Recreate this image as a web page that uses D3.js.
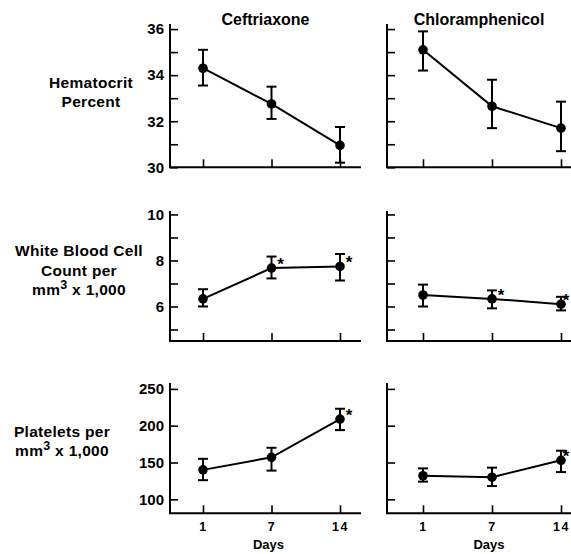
<!DOCTYPE html>
<html>
<head>
<meta charset="utf-8">
<script src="https://cdn.jsdelivr.net/npm/d3@7"></script>
<style>
  html, body { margin: 0; padding: 0; background: #fff; }
  svg { display: block; font-family: "Liberation Sans", Arial, sans-serif; font-weight: bold; }
</style>
</head>
<body>
<svg id="chart" width="571" height="554"></svg>
<script>
// ---------- data ----------
const days = ["1", "7", "14"];
const drugs = ["Ceftriaxone", "Chloramphenicol"];

const hctCeftriaxone      = [34.3, 32.75, 30.95];
const hctCeftriaxoneLo    = [33.55, 32.1, 30.2];
const hctCeftriaxoneHi    = [35.1, 33.5, 31.75];
const hctCeftriaxoneSig   = [false, false, false];

const hctChloramphenicol    = [35.1, 32.65, 31.7];
const hctChloramphenicolLo  = [34.2, 31.7, 30.7];
const hctChloramphenicolHi  = [35.9, 33.8, 32.85];
const hctChloramphenicolSig = [false, false, false];

const wbcCeftriaxone      = [6.33, 7.67, 7.74];
const wbcCeftriaxoneLo    = [6.0, 7.22, 7.13];
const wbcCeftriaxoneHi    = [6.75, 8.17, 8.28];
const wbcCeftriaxoneSig   = [false, true, true];

const wbcChloramphenicol    = [6.5, 6.33, 6.1];
const wbcChloramphenicolLo  = [6.0, 5.92, 5.83];
const wbcChloramphenicolHi  = [6.95, 6.7, 6.42];
const wbcChloramphenicolSig = [false, true, true];

const pltCeftriaxone      = [140, 157, 209];
const pltCeftriaxoneLo    = [126, 139, 194];
const pltCeftriaxoneHi    = [155, 170, 223];
const pltCeftriaxoneSig   = [false, false, true];

const pltChloramphenicol    = [132, 130, 153];
const pltChloramphenicolLo  = [124, 118, 137];
const pltChloramphenicolHi  = [142, 143, 166];
const pltChloramphenicolSig = [false, false, true];

const hctTicks = [30, 31, 32, 33, 34, 35, 36];
const hctTickLabels = [30, 32, 34, 36];
const wbcTicks = [5, 6, 7, 8, 9, 10];
const wbcTickLabels = [6, 8, 10];
const pltTicks = [100, 150, 200, 250];
const pltTickLabels = [100, 150, 200, 250];

// ---------- layout ----------
const svg = d3.select("#chart");
const ink = "#000";

const cols = [
  { frame: [170, 361], points: [203, 340], labels: true },
  { frame: [387, 575], points: [423, 561], labels: false }
];

const rows = [
  { domain: [30, 36.22], range: [167.3, 24], ticks: hctTicks, tickLabels: hctTickLabels,
    series: [[hctCeftriaxone, hctCeftriaxoneLo, hctCeftriaxoneHi, hctCeftriaxoneSig],
             [hctChloramphenicol, hctChloramphenicolLo, hctChloramphenicolHi, hctChloramphenicolSig]],
    label: [["Hematocrit"], ["Percent"]], labelX: 91, labelY: [88, 107] },
  { domain: [4.5, 10.15], range: [341, 211], ticks: wbcTicks, tickLabels: wbcTickLabels,
    series: [[wbcCeftriaxone, wbcCeftriaxoneLo, wbcCeftriaxoneHi, wbcCeftriaxoneSig],
             [wbcChloramphenicol, wbcChloramphenicolLo, wbcChloramphenicolHi, wbcChloramphenicolSig]],
    label: [["White Blood Cell"], ["Count per"], ["mm", "3", " x 1,000"]], labelX: 79, labelY: [256, 276, 295] },
  { domain: [81, 258], range: [513.3, 383], ticks: pltTicks, tickLabels: pltTickLabels,
    series: [[pltCeftriaxone, pltCeftriaxoneLo, pltCeftriaxoneHi, pltCeftriaxoneSig],
             [pltChloramphenicol, pltChloramphenicolLo, pltChloramphenicolHi, pltChloramphenicolSig]],
    label: [["Platelets per"], ["mm", "3", " x 1,000"]], labelX: 62, labelY: [437, 456] }
];

// column titles
drugs.forEach((name, ci) => {
  svg.append("text")
    .attr("x", (cols[ci].frame[0] + Math.min(cols[ci].frame[1], 571)) / 2)
    .attr("y", 25)
    .attr("text-anchor", "middle")
    .attr("font-size", 16)
    .attr("fill", ink)
    .text(name);
});

rows.forEach((row, ri) => {
  const y = d3.scaleLinear().domain(row.domain).range(row.range);
  const baseY = row.range[0];

  // row label
  row.label.forEach((parts, li) => {
    const t = svg.append("text")
      .attr("x", row.labelX)
      .attr("y", row.labelY[li])
      .attr("text-anchor", "middle")
      .attr("font-size", 15.5)
      .attr("letter-spacing", 0.3)
      .attr("fill", ink);
    if (parts.length === 1) {
      t.text(parts[0]);
    } else {
      t.append("tspan").text(parts[0]);
      t.append("tspan").attr("dy", -6).attr("font-size", 12.5).text(parts[1]);
      t.append("tspan").attr("dy", 6).text(parts[2]);
    }
  });

  cols.forEach((col, ci) => {
    const x = d3.scalePoint().domain(days).range(col.points);
    const g = svg.append("g");

    // y axis (ticks inside)
    const yAxis = d3.axisLeft(y)
      .tickValues(row.ticks)
      .tickSizeInner(-8)
      .tickSizeOuter(0)
      .tickPadding(5)
      .tickFormat(d => (col.labels && row.tickLabels.includes(d)) ? d : "");
    const ya = g.append("g")
      .attr("transform", `translate(${col.frame[0]},0)`)
      .call(yAxis);
    ya.select(".domain").remove();
    ya.selectAll(".tick line").attr("stroke", ink).attr("stroke-width", 1.6);
    ya.selectAll(".tick text")
      .attr("fill", ink)
      .attr("font-size", 15)
      .attr("font-family", "Liberation Sans, Arial, sans-serif")
      .attr("font-weight", "bold")
      .attr("x", -6);

    // vertical axis line
    g.append("line")
      .attr("x1", col.frame[0]).attr("x2", col.frame[0])
      .attr("y1", y.range()[1]).attr("y2", baseY)
      .attr("stroke", ink).attr("stroke-width", 2);

    // x axis (ticks inside, upward)
    const isBottom = ri === rows.length - 1;
    const xAxis = d3.axisBottom(x)
      .tickSizeInner(-8)
      .tickSizeOuter(0)
      .tickPadding(6)
      .tickFormat(d => isBottom ? d : "");
    const xa = g.append("g")
      .attr("transform", `translate(0,${baseY})`)
      .call(xAxis);
    xa.select(".domain").remove();
    xa.selectAll(".tick line").attr("stroke", ink).attr("stroke-width", 1.6);
    xa.selectAll(".tick text")
      .attr("fill", ink)
      .attr("font-size", 12.5)
      .attr("letter-spacing", 1.5)
      .attr("font-family", "Liberation Sans, Arial, sans-serif")
      .attr("font-weight", "bold")
      .attr("dy", "0.95em");

    // baseline
    g.append("line")
      .attr("x1", col.frame[0] - 1).attr("x2", col.frame[1])
      .attr("y1", baseY).attr("y2", baseY)
      .attr("stroke", ink).attr("stroke-width", 2);

    if (isBottom) {
      g.append("text")
        .attr("x", x("7") - 3)
        .attr("y", 549)
        .attr("text-anchor", "middle")
        .attr("font-size", 13)
        .attr("fill", ink)
        .text("Days");
    }

    // data
    const [mean, lo, hi, sig] = row.series[ci];
    const pts = days.map((d, i) => ({ d, m: mean[i], lo: lo[i], hi: hi[i], sig: sig[i] }));

    g.append("path")
      .datum(pts)
      .attr("fill", "none")
      .attr("stroke", ink)
      .attr("stroke-width", 2)
      .attr("d", d3.line().x(p => x(p.d)).y(p => y(p.m)));

    const eb = g.selectAll(".eb").data(pts).enter().append("g");
    eb.append("line")
      .attr("x1", p => x(p.d)).attr("x2", p => x(p.d))
      .attr("y1", p => y(p.lo)).attr("y2", p => y(p.hi))
      .attr("stroke", ink).attr("stroke-width", 2);
    eb.append("line")
      .attr("x1", p => x(p.d) - 5).attr("x2", p => x(p.d) + 5)
      .attr("y1", p => y(p.hi)).attr("y2", p => y(p.hi))
      .attr("stroke", ink).attr("stroke-width", 2);
    eb.append("line")
      .attr("x1", p => x(p.d) - 5).attr("x2", p => x(p.d) + 5)
      .attr("y1", p => y(p.lo)).attr("y2", p => y(p.lo))
      .attr("stroke", ink).attr("stroke-width", 2);

    g.selectAll(".dot").data(pts).enter().append("circle")
      .attr("cx", p => x(p.d))
      .attr("cy", p => y(p.m))
      .attr("r", 4.8)
      .attr("fill", ink);

    g.selectAll(".star").data(pts.filter(p => p.sig)).enter().append("text")
      .attr("x", p => Math.min(x(p.d) + 9, 566))
      .attr("y", p => y(p.m) + 2)
      .attr("text-anchor", "middle")
      .attr("font-size", 17)
      .attr("fill", ink)
      .text("*");
  });
});
</script>
</body>
</html>
